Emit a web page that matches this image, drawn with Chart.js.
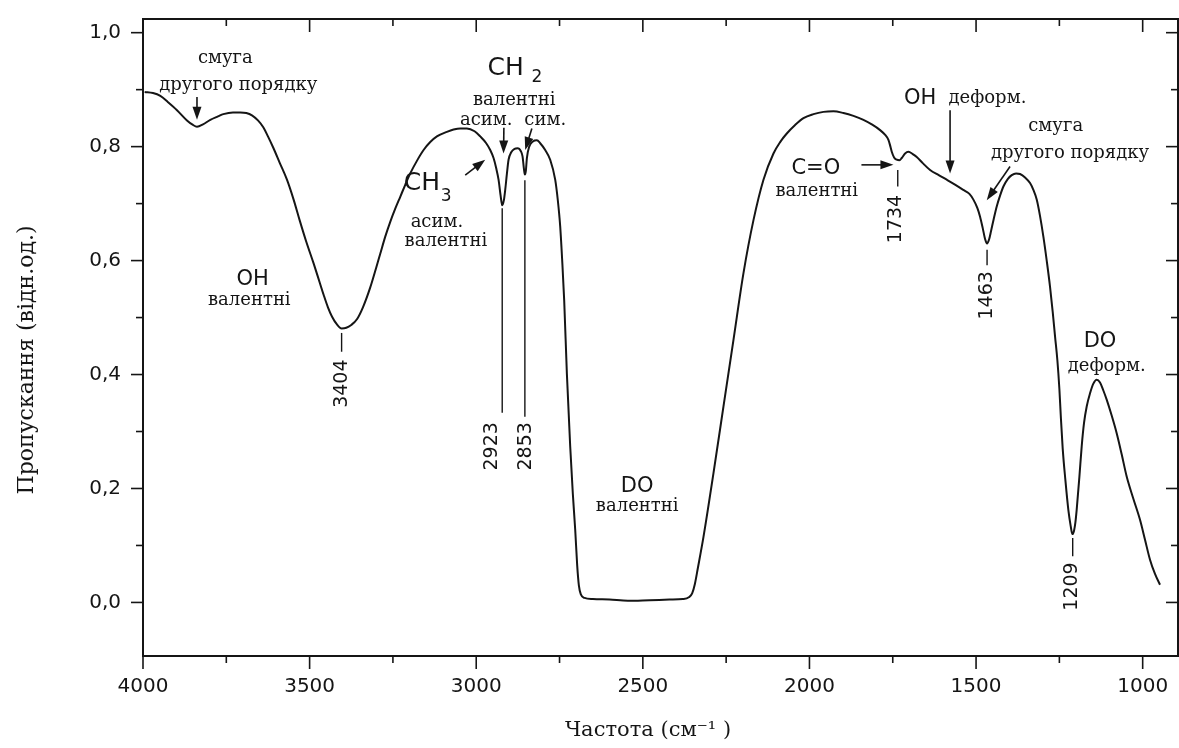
<!DOCTYPE html>
<html>
<head>
<meta charset="utf-8">
<script src="https://cdn.jsdelivr.net/npm/chart.js@4.4.1/dist/chart.umd.min.js"></script>
<style>
  html, body { margin: 0; padding: 0; background: #fff; }
  #wrap { width: 1179px; height: 748px; position: relative; }
</style>
</head>
<body>
<div id="wrap"><canvas id="irChart"></canvas></div>
<script>
// --- Spectrum data ---
const wavenumbers = [
    3995, 3970, 3948, 3925, 3898, 3868, 3850, 3838, 3820, 3798, 3775, 3759, 3730, 3708, 3690, 3673,
    3655, 3639, 3625, 3609, 3590, 3568, 3548, 3530, 3510, 3488, 3470, 3458, 3445, 3433, 3418, 3404,
    3390, 3375, 3358, 3340, 3318, 3300, 3288, 3273, 3258, 3243, 3228, 3213, 3198, 3178, 3158, 3138,
    3118, 3088, 3068, 3048, 3028, 3005, 2988, 2970, 2958, 2948, 2940, 2933, 2927, 2922, 2917, 2913,
    2908, 2903, 2895, 2885, 2876, 2866, 2861, 2857, 2854, 2851, 2848, 2841, 2830, 2818, 2808, 2793,
    2778, 2763, 2755, 2748, 2742, 2736, 2728, 2718, 2710, 2703, 2697, 2692, 2686, 2675, 2650, 2600,
    2545, 2480, 2420, 2380, 2362, 2352, 2344, 2335, 2318, 2288, 2258, 2228, 2198, 2168, 2138, 2108,
    2088, 2068, 2043, 2018, 1988, 1958, 1928, 1898, 1868, 1838, 1813, 1788, 1772, 1763, 1757, 1753,
    1746, 1738, 1730, 1723, 1713, 1703, 1690, 1678, 1660, 1638, 1612, 1588, 1562, 1538, 1520, 1508,
    1496, 1488, 1480, 1473, 1467, 1461, 1455, 1447, 1438, 1428, 1418, 1405, 1393, 1380, 1368, 1353,
    1338, 1328, 1318, 1308, 1298, 1288, 1278, 1270, 1263, 1256, 1250, 1246, 1240, 1232, 1223, 1216,
    1211, 1206, 1202, 1198, 1190, 1183, 1176, 1168, 1158, 1148, 1138, 1128, 1118, 1108, 1093, 1078,
    1063, 1048, 1028, 1008, 993, 978, 963, 948
];
const transmittance = [
    0.896, 0.894, 0.889, 0.878, 0.864, 0.846, 0.838, 0.835, 0.839, 0.847, 0.853, 0.857, 0.860, 0.860, 0.859, 0.855,
    0.846, 0.834, 0.818, 0.798, 0.772, 0.742, 0.707, 0.671, 0.633, 0.595, 0.562, 0.540, 0.518, 0.502, 0.488, 0.481,
    0.482, 0.487, 0.497, 0.518, 0.553, 0.588, 0.612, 0.642, 0.668, 0.691, 0.712, 0.733, 0.753, 0.775, 0.794, 0.808,
    0.818, 0.826, 0.830, 0.832, 0.832, 0.827, 0.818, 0.806, 0.794, 0.780, 0.762, 0.742, 0.715, 0.697, 0.706, 0.724,
    0.752, 0.777, 0.790, 0.796, 0.797, 0.792, 0.783, 0.762, 0.751, 0.758, 0.780, 0.800, 0.809, 0.811, 0.806, 0.794,
    0.777, 0.742, 0.705, 0.660, 0.600, 0.530, 0.402, 0.274, 0.190, 0.128, 0.065, 0.030, 0.014, 0.008, 0.006, 0.005,
    0.003, 0.004, 0.005, 0.006, 0.009, 0.016, 0.032, 0.060, 0.115, 0.227, 0.344, 0.461, 0.578, 0.671, 0.742, 0.788,
    0.808, 0.823, 0.838, 0.850, 0.857, 0.861, 0.862, 0.859, 0.854, 0.847, 0.839, 0.829, 0.820, 0.812, 0.800, 0.791,
    0.781, 0.777, 0.776, 0.780, 0.788, 0.791, 0.787, 0.782, 0.771, 0.759, 0.750, 0.742, 0.733, 0.724, 0.717, 0.707,
    0.692, 0.677, 0.657, 0.638, 0.630, 0.637, 0.652, 0.673, 0.695, 0.714, 0.730, 0.743, 0.750, 0.753, 0.752, 0.746,
    0.736, 0.724, 0.707, 0.678, 0.642, 0.600, 0.554, 0.510, 0.467, 0.425, 0.375, 0.330, 0.270, 0.215, 0.162, 0.134,
    0.120, 0.126, 0.140, 0.163, 0.220, 0.274, 0.315, 0.344, 0.367, 0.384, 0.391, 0.386, 0.372, 0.356, 0.328, 0.297,
    0.260, 0.221, 0.182, 0.145, 0.110, 0.075, 0.050, 0.031
];

// --- Axis ticks ---
const xMajorTicks = [1000, 1500, 2000, 2500, 3000, 3500, 4000];
const xMinorTicks = [1250, 1750, 2250, 2750, 3250, 3750];
const yMajorTicks = [0.0, 0.2, 0.4, 0.6, 0.8, 1.0];
const yMinorTicks = [0.1, 0.3, 0.5, 0.7, 0.9];

// --- Band annotations: [text, wavenumber, transmittance, kind] ---
const bandLabels = [
    ['смуга', 3753, 0.955, 'serif'],
    ['другого порядку', 3714, 0.908, 'serif'],
    ['CH', 2912, 0.938, 'sansBig'],
    ['2', 2818, 0.921, 'sub'],
    ['валентні', 2886, 0.882, 'serif'],
    ['асим.', 2970, 0.847, 'serif'],
    ['сим.', 2793, 0.847, 'serif'],
    ['CH', 3163, 0.736, 'sansBig'],
    ['3', 3090, 0.712, 'sub'],
    ['асим.', 3118, 0.668, 'serif'],
    ['валентні', 3091, 0.633, 'serif'],
    ['OH', 3671, 0.566, 'sans'],
    ['валентні', 3681, 0.531, 'serif'],
    ['DO', 2517, 0.203, 'sans'],
    ['валентні', 2517, 0.168, 'serif'],
    ['OH', 1668, 0.885, 'sans'],
    ['деформ.', 1466, 0.885, 'serif'],
    ['смуга', 1261, 0.835, 'serif'],
    ['другого порядку', 1218, 0.788, 'serif'],
    ['C=O', 1981, 0.762, 'sans'],
    ['валентні', 1978, 0.721, 'serif'],
    ['DO', 1128, 0.458, 'sans'],
    ['деформ.', 1108, 0.414, 'serif']
];

// peak marks: [text, wavenumber, line top, line bottom, text wavenumber, text centre]
const peakMarks = [
    ['3404', 3404, 0.473, 0.440, 3404, 0.384],
    ['2923', 2922, 0.692, 0.333, 2953, 0.274],
    ['2853', 2854, 0.741, 0.326, 2851, 0.274],
    ['1734', 1735, 0.759, 0.730, 1741, 0.673],
    ['1463', 1467, 0.619, 0.592, 1468, 0.539],
    ['1209', 1210, 0.113, 0.081, 1211, 0.028]
];

// arrows: [from wn, from T, to wn, to T]
const arrows = [
    [3838, 0.887, 3838, 0.847],
    [2917, 0.833, 2918, 0.788],
    [2833, 0.832, 2853, 0.794],
    [3033, 0.750, 2973, 0.777],
    [1578, 0.864, 1578, 0.753],
    [1398, 0.765, 1468, 0.706],
    [1844, 0.768, 1748, 0.768]
];

const INK = '#151515';
const FONTS = {
    serif: "18px 'DejaVu Serif'",
    sans: "21px 'DejaVu Sans'",
    sansBig: "25px 'DejaVu Sans'",
    sub: "17px 'DejaVu Sans'",
    num: "19px 'DejaVu Sans'"
};

// --- Plugin: frame, ticks, titles and annotations ---
const spectrumDecor = {
    id: 'spectrumDecor',
    afterDatasetsDraw(chart) {
        const { ctx, chartArea: a, scales } = chart;
        const sx = scales.x, sy = scales.y;
        ctx.save();
        ctx.strokeStyle = INK;
        ctx.fillStyle = INK;

        // frame
        ctx.lineWidth = 2;
        ctx.strokeRect(a.left, a.top, a.right - a.left, a.bottom - a.top);

        // ticks: out on bottom/left, in on top/right
        ctx.lineWidth = 1.6;
        const tick = (x1, y1, x2, y2) => { ctx.beginPath(); ctx.moveTo(x1, y1); ctx.lineTo(x2, y2); ctx.stroke(); };
        const xt = (vals, len) => vals.forEach(v => {
            const px = sx.getPixelForValue(v);
            tick(px, a.bottom, px, a.bottom + len);
            tick(px, a.top, px, a.top + len);
        });
        const yt = (vals, len) => vals.forEach(v => {
            const py = sy.getPixelForValue(v);
            tick(a.left - len, py, a.left, py);
            tick(a.right - len, py, a.right, py);
        });
        xt(xMajorTicks, 13); xt(xMinorTicks, 7);
        yt(yMajorTicks, 12); yt(yMinorTicks, 7);

        // axis titles
        ctx.textAlign = 'center';
        ctx.textBaseline = 'middle';
        ctx.font = "21px 'DejaVu Serif'";
        ctx.fillText('Частота (см⁻¹ )', 648, 731);
        ctx.save();
        ctx.translate(27, 360);
        ctx.rotate(-Math.PI / 2);
        ctx.font = "22px 'DejaVu Serif'";
        ctx.fillText('Пропускання (відн.од.)', 0, 0);
        ctx.restore();

        // band labels
        bandLabels.forEach(([txt, wn, t, kind]) => {
            ctx.font = FONTS[kind];
            ctx.fillText(txt, sx.getPixelForValue(wn), sy.getPixelForValue(t));
        });

        // peak position marks with rotated numbers
        ctx.lineWidth = 1.4;
        peakMarks.forEach(([txt, wn, t1, t2, twn, tt]) => {
            const px = sx.getPixelForValue(wn);
            tick(px, sy.getPixelForValue(t1), px, sy.getPixelForValue(t2));
            ctx.save();
            ctx.translate(sx.getPixelForValue(twn), sy.getPixelForValue(tt));
            ctx.rotate(-Math.PI / 2);
            ctx.font = FONTS.num;
            ctx.fillText(txt, 0, 0);
            ctx.restore();
        });

        // arrows
        arrows.forEach(([w1, t1, w2, t2]) => {
            const x1 = sx.getPixelForValue(w1), y1 = sy.getPixelForValue(t1);
            const x2 = sx.getPixelForValue(w2), y2 = sy.getPixelForValue(t2);
            const ang = Math.atan2(y2 - y1, x2 - x1);
            ctx.lineWidth = 1.6;
            tick(x1, y1, x2 - 6 * Math.cos(ang), y2 - 6 * Math.sin(ang));
            ctx.beginPath();
            ctx.moveTo(x2, y2);
            ctx.lineTo(x2 - 13 * Math.cos(ang) + 4.5 * Math.sin(ang), y2 - 13 * Math.sin(ang) - 4.5 * Math.cos(ang));
            ctx.lineTo(x2 - 13 * Math.cos(ang) - 4.5 * Math.sin(ang), y2 - 13 * Math.sin(ang) + 4.5 * Math.cos(ang));
            ctx.closePath();
            ctx.fill();
        });
        ctx.restore();
    }
};

const fmtComma = v => v.toFixed(1).replace('.', ',');

new Chart(document.getElementById('irChart'), {
    type: 'line',
    data: {
        datasets: [{
            data: wavenumbers.map((w, i) => ({ x: w, y: transmittance[i] })),
            borderColor: INK,
            borderWidth: 2,
            pointRadius: 0,
            fill: false,
            cubicInterpolationMode: 'monotone'
        }]
    },
    options: {
        responsive: true,
        maintainAspectRatio: false,
        animation: false,
        layout: { padding: { top: 19, right: 1, left: 0, bottom: 0 } },
        plugins: { legend: { display: false }, tooltip: { enabled: false } },
        scales: {
            x: {
                type: 'linear',
                reverse: true,
                min: 894,
                max: 4000,
                afterBuildTicks: s => { s.ticks = xMajorTicks.map(v => ({ value: v })); },
                afterFit: s => { s.height = 92; s.paddingLeft = 0; s.paddingRight = 0; },
                grid: { display: false, drawTicks: false },
                border: { display: false },
                ticks: {
                    color: INK,
                    padding: 19,
                    maxRotation: 0,
                    font: { family: 'DejaVu Sans', size: 20 },
                    callback: v => String(v)
                }
            },
            y: {
                min: -0.094,
                max: 1.024,
                afterBuildTicks: s => { s.ticks = yMajorTicks.map(v => ({ value: v })); },
                afterFit: s => { s.width = 143; s.paddingTop = 0; s.paddingBottom = 0; },
                grid: { display: false, drawTicks: false },
                border: { display: false },
                ticks: {
                    color: INK,
                    padding: 22,
                    font: { family: 'DejaVu Sans', size: 20 },
                    callback: v => fmtComma(v)
                }
            }
        }
    },
    plugins: [spectrumDecor]
});
</script>
</body>
</html>
